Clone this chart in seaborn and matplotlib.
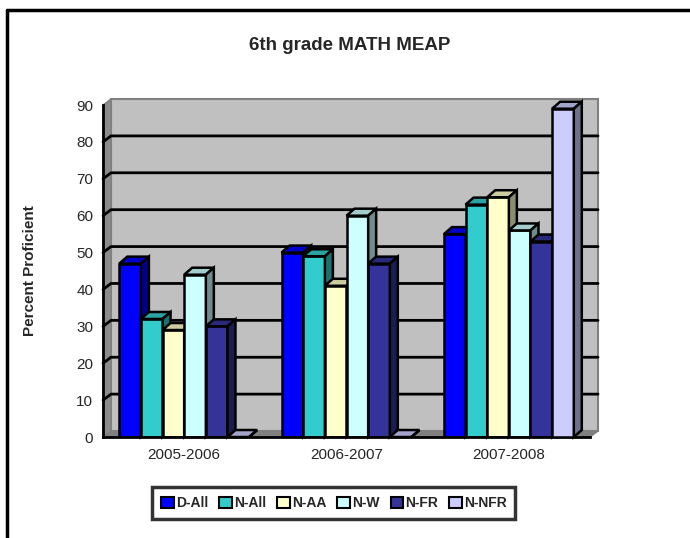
import pandas as pd
import matplotlib.pyplot as plt
import matplotlib.transforms as mtrans
from matplotlib.patches import Polygon, Rectangle
from matplotlib.lines import Line2D
import seaborn as sns

# Data
years = ['2005-2006', '2006-2007', '2007-2008']
groups = ['D-All', 'N-All', 'N-AA', 'N-W', 'N-FR', 'N-NFR']
d_all = [47, 50, 55]
n_all = [32, 49, 63]
n_aa = [29, 41, 65]
n_w = [44, 60, 56]
n_fr = [30, 47, 53]
n_nfr = [0, 0, 89]
colors = ['#0000FF', '#33CCCC', '#FFFFCC', '#CCFFFF', '#333399', '#CCCCFF']

df = pd.DataFrame({
    'Year': years * 6,
    'Group': [g for g in groups for _ in years],
    'Value': d_all + n_all + n_aa + n_w + n_fr + n_nfr,
})

sns.set_style("white")
plt.rcParams['font.family'] = ['Liberation Sans', 'DejaVu Sans']

fig = plt.figure(figsize=(6.9, 5.38), dpi=100)
ax = fig.add_axes([0.1493, 0.1877, 0.7058, 0.6171])

sns.barplot(data=df, x='Year', y='Value', hue='Group', hue_order=groups,
            palette=colors, saturation=1, edgecolor='black', linewidth=1.8,
            width=0.8, ax=ax)
if ax.get_legend() is not None:
    ax.get_legend().remove()

ax.set_xlim(-0.5, 2.5)
ax.set_ylim(0, 90)
ax.patch.set_visible(False)

# ── fake 3D wall, floor and gridlines ──
ident = mtrans.IdentityTransform()
wx, wy = 8, 6
a0 = ax.transAxes.transform((0, 0))
a1 = ax.transAxes.transform((0, 1))
b0 = ax.transAxes.transform((1, 0))
b1 = ax.transAxes.transform((1, 1))


def sh(p, dx, dy):
    return (p[0] + dx, p[1] + dy)


ax.add_patch(Polygon([sh(a0, wx, wy), sh(a1, wx, wy), sh(b1, wx, wy), sh(b0, wx, wy)],
                     closed=True, facecolor='#C0C0C0', edgecolor='#808080', lw=1.5,
                     transform=ident, zorder=0, clip_on=False))
ax.add_patch(Polygon([a0, a1, sh(a1, wx, wy), sh(a0, wx, wy)], closed=True,
                     facecolor='#8C8C8C', edgecolor='#808080', lw=1,
                     transform=ident, zorder=0.1, clip_on=False))
ax.add_patch(Polygon([a0, b0, sh(b0, wx, wy), sh(a0, wx, wy)], closed=True,
                     facecolor='#808080', edgecolor='#808080', lw=1,
                     transform=ident, zorder=0.1, clip_on=False))

for v in range(10, 90, 10):
    p = ax.transData.transform((-0.5, v))
    q = ax.transData.transform((2.5, v))
    ax.add_line(Line2D([p[0], p[0] + wx, q[0] + wx], [p[1], p[1] + wy, q[1] + wy],
                       color='black', lw=2, transform=ident, zorder=0.5, clip_on=False))

# ── 3D faces on the bars, drawn left to right ──
bars = sorted([p for p in ax.patches
               if isinstance(p, Rectangle) and 0 < p.get_width() < 0.5],
              key=lambda r: r.get_x())
dx, dy = 8, 7
for i, r in enumerate(bars):
    z = 2 + 3 * i
    r.set_zorder(z)
    x0, y0 = ax.transData.transform((r.get_x(), r.get_y()))
    x1, y1 = ax.transData.transform((r.get_x() + r.get_width(), r.get_y() + r.get_height()))
    fc = r.get_facecolor()
    top_c = tuple(c * 0.8 for c in fc[:3])
    side_c = tuple(c * 0.55 for c in fc[:3])
    ax.add_patch(Polygon([(x0, y1), (x1, y1), (x1 + dx, y1 + dy), (x0 + dx, y1 + dy)],
                         closed=True, facecolor=top_c, edgecolor='black', lw=1.8,
                         transform=ident, zorder=z + 1, clip_on=False))
    ax.add_patch(Polygon([(x1, y0), (x1, y1), (x1 + dx, y1 + dy), (x1 + dx, y0 + dy)],
                         closed=True, facecolor=side_c, edgecolor='black', lw=1.8,
                         transform=ident, zorder=z + 1, clip_on=False))

# ── axes styling ──
for s in ['top', 'right']:
    ax.spines[s].set_visible(False)
for s in ['left', 'bottom']:
    ax.spines[s].set_color('black')
    ax.spines[s].set_linewidth(2)
    ax.spines[s].set_zorder(50)

ax.set_yticks(range(0, 91, 10))
ax.tick_params(axis='y', direction='out', length=6, width=2, color='black',
               labelsize=11, pad=1)
ax.set_xticks([-0.5, 0.5, 1.5, 2.5])
ax.set_xticklabels([])
ax.set_xticks([0, 1, 2], minor=True)
ax.set_xticklabels(years, minor=True)
ax.tick_params(axis='x', which='major', direction='out', length=6, width=2, color='black')
ax.tick_params(axis='x', which='minor', length=0, labelsize=11, pad=8)

ax.set_xlabel('')
ax.set_ylabel('Percent Proficient', fontsize=11, fontweight='bold')
ax.yaxis.set_label_coords(-0.135, 0.5)

fig.text(0.507, 1 - 45 / 538, '6th grade MATH MEAP', ha='center', va='center',
         fontsize=13.5, fontweight='bold')

handles = [Rectangle((0, 0), 1, 1, facecolor=c, edgecolor='black', lw=1.5) for c in colors]
leg = fig.legend(handles, groups, loc='center', bbox_to_anchor=(0.484, 0.0645), ncol=6,
                 frameon=True, fancybox=False, edgecolor='black',
                 prop={'weight': 'bold', 'size': 10}, handlelength=0.9, handleheight=0.9,
                 handletextpad=0.15, columnspacing=0.8, borderpad=0.65)
leg.get_frame().set_linewidth(2.5)

# figure border (left and top edges only)
fig.add_artist(Line2D([7 / 690, 7 / 690], [0, 1 - 10 / 538], color='black', lw=2.5))
fig.add_artist(Line2D([7 / 690, 1], [1 - 10 / 538, 1 - 10 / 538], color='black', lw=2.5))

fig.savefig('out.png', dpi=100, facecolor='white')
